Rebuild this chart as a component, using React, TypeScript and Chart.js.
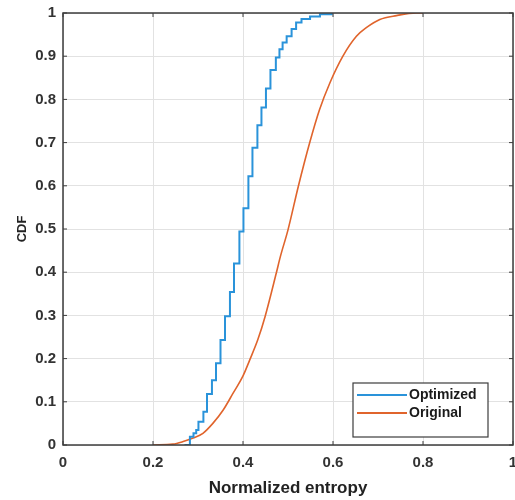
import React, { useEffect, useRef } from "react";
import { Chart, registerables } from "chart.js";

Chart.register(...registerables);

// ---- data ----
const optimizedX = [0.27, 0.282, 0.29, 0.296, 0.301, 0.312, 0.32, 0.331, 0.34, 0.35, 0.36, 0.371, 0.38, 0.392, 0.401, 0.412, 0.421, 0.432, 0.441, 0.451, 0.461, 0.473, 0.481, 0.488, 0.497, 0.508, 0.518, 0.53, 0.549, 0.571, 0.597];
const optimizedY = [0, 0.019, 0.027, 0.035, 0.054, 0.077, 0.118, 0.15, 0.189, 0.243, 0.298, 0.354, 0.42, 0.494, 0.548, 0.622, 0.688, 0.74, 0.781, 0.825, 0.868, 0.897, 0.916, 0.932, 0.946, 0.963, 0.978, 0.986, 0.992, 0.997, 1.0];

const originalX = [0.2, 0.244, 0.267, 0.289, 0.311, 0.333, 0.356, 0.378, 0.4, 0.415, 0.433, 0.449, 0.474, 0.483, 0.5, 0.523, 0.548, 0.57, 0.593, 0.622, 0.652, 0.674, 0.704, 0.741, 0.785, 0.8];
const originalY = [0, 0.002, 0.008, 0.016, 0.027, 0.05, 0.081, 0.12, 0.16, 0.197, 0.244, 0.297, 0.398, 0.436, 0.498, 0.599, 0.699, 0.776, 0.838, 0.9, 0.946, 0.966, 0.985, 0.994, 1.0, 1.0];

const seriesLabels = ["Optimized", "Original"];

const xTicks = [0, 0.2, 0.4, 0.6, 0.8, 1];
const xTickLabels = ["0", "0.2", "0.4", "0.6", "0.8", "1"];
const yTicks = [0, 0.1, 0.2, 0.3, 0.4, 0.5, 0.6, 0.7, 0.8, 0.9, 1];
const yTickLabels = ["0", "0.1", "0.2", "0.3", "0.4", "0.5", "0.6", "0.7", "0.8", "0.9", "1"];

const xTitle = "Normalized entropy";
const yTitle = "CDF";

const BLUE = "#2a93da";
const ORANGE = "#e0642c";
const FONT = "'Liberation Sans', Arial, sans-serif";

const framePlugin = {
  id: "frameAndLegend",
  afterDatasetsDraw(chart: any) {
    const { ctx, chartArea, scales } = chart;
    const { left, right, top, bottom } = chartArea;
    ctx.save();
    // box
    ctx.strokeStyle = "#3c3c3c";
    ctx.lineWidth = 1.5;
    ctx.strokeRect(left, top, right - left, bottom - top);
    // inward ticks
    const tl = 4;
    ctx.lineWidth = 1;
    ctx.beginPath();
    xTicks.forEach((v) => {
      const px = scales.x.getPixelForValue(v);
      ctx.moveTo(px, bottom);
      ctx.lineTo(px, bottom - tl);
      ctx.moveTo(px, top);
      ctx.lineTo(px, top + tl);
    });
    yTicks.forEach((v) => {
      const py = scales.y.getPixelForValue(v);
      ctx.moveTo(left, py);
      ctx.lineTo(left + tl, py);
      ctx.moveTo(right, py);
      ctx.lineTo(right - tl, py);
    });
    ctx.stroke();

    // legend
    const bx = 353, by = 383, bw = 135, bh = 54;
    ctx.fillStyle = "#ffffff";
    ctx.fillRect(bx, by, bw, bh);
    ctx.strokeStyle = "#3c3c3c";
    ctx.lineWidth = 1.2;
    ctx.strokeRect(bx, by, bw, bh);
    const rows = [395, 413];
    chart.data.datasets.forEach((ds: any, i: number) => {
      const y = rows[i];
      ctx.strokeStyle = ds.borderColor;
      ctx.lineWidth = 2;
      ctx.beginPath();
      ctx.moveTo(357, y);
      ctx.lineTo(407, y);
      ctx.stroke();
      ctx.fillStyle = "#1a1a1a";
      ctx.font = `bold 14px ${FONT}`;
      ctx.textBaseline = "middle";
      ctx.textAlign = "left";
      ctx.fillText(ds.label, 409, y);
    });
    ctx.restore();
  },
};

export default function App() {
  const ref = useRef<HTMLCanvasElement | null>(null);

  useEffect(() => {
    if (!ref.current) return;
    const chart = new Chart(ref.current, {
      type: "line",
      data: {
        datasets: [
          {
            label: seriesLabels[0],
            data: optimizedX.map((x, i) => ({ x, y: optimizedY[i] })),
            borderColor: BLUE,
            borderWidth: 2,
            pointRadius: 0,
            stepped: "before",
            fill: false,
          },
          {
            label: seriesLabels[1],
            data: originalX.map((x, i) => ({ x, y: originalY[i] })),
            borderColor: ORANGE,
            borderWidth: 1.6,
            pointRadius: 0,
            cubicInterpolationMode: "monotone",
            fill: false,
          },
        ],
      },
      options: {
        animation: false,
        responsive: false,
        devicePixelRatio: 1,
        layout: { padding: { left: 0, top: 13, right: 2, bottom: 0 } },
        plugins: { legend: { display: false }, tooltip: { enabled: false } },
        scales: {
          x: {
            type: "linear",
            min: 0,
            max: 1,
            afterBuildTicks: (s: any) => {
              s.ticks = xTicks.map((v) => ({ value: v }));
            },
            afterFit: (s: any) => {
              s.height = 55;
              s.paddingLeft = 0;
              s.paddingRight = 0;
            },
            ticks: {
              autoSkip: false,
              maxRotation: 0,
              padding: 9,
              color: "#333333",
              font: { family: FONT, size: 15, weight: "bold" },
              callback: (_v: any, i: number) => xTickLabels[i],
            },
            grid: { color: "#e2e2e2", drawTicks: false, lineWidth: 1 },
            border: { display: false },
            title: {
              display: true,
              text: xTitle,
              color: "#222222",
              font: { family: FONT, size: 17, weight: "bold" },
              padding: { top: 0, bottom: 1 },
            },
          },
          y: {
            type: "linear",
            min: 0,
            max: 1,
            afterBuildTicks: (s: any) => {
              s.ticks = yTicks.map((v) => ({ value: v }));
            },
            afterFit: (s: any) => {
              s.width = 63;
              s.paddingTop = 0;
              s.paddingBottom = 0;
            },
            ticks: {
              autoSkip: false,
              padding: 7,
              color: "#333333",
              font: { family: FONT, size: 15, weight: "bold" },
              callback: (_v: any, i: number) => yTickLabels[i],
            },
            grid: { color: "#e2e2e2", drawTicks: false, lineWidth: 1 },
            border: { display: false },
            title: {
              display: true,
              text: yTitle,
              color: "#222222",
              font: { family: FONT, size: 13, weight: "bold" },
              padding: { top: 15, bottom: 0 },
            },
          },
        },
      },
      plugins: [framePlugin],
    } as any);
    return () => chart.destroy();
  }, []);

  return (
    <div style={{ position: "fixed", left: 0, top: 0, width: 515, height: 500, background: "#fff" }}>
      <canvas ref={ref} width={515} height={500} style={{ display: "block", width: 515, height: 500 }} />
    </div>
  );
}
